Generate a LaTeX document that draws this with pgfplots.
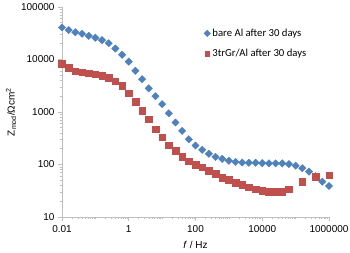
\documentclass[border=0pt]{standalone}
\usepackage{pgfplots}
\pgfplotsset{compat=1.18}
\usepackage{fontspec}
\setmainfont{Liberation Sans}
\newfontfamily\legfont{Carlito}
\definecolor{exblue}{HTML}{4F81BD}
\definecolor{exred}{HTML}{C0504D}
\definecolor{axgray}{HTML}{BFBFBF}
\begin{document}
\begin{tikzpicture}[x=1pt,y=1pt]
\useasboundingbox (-62pt,-36pt) rectangle (288pt,217pt);
\begin{axis}[
  at={(0,0)}, anchor=south west,
  scale only axis, width=267pt, height=210pt,
  xmode=log, ymode=log,
  xmin=0.01, xmax=1000000, ymin=10, ymax=100000,
  axis x line*=bottom, axis y line*=left,
  axis line style={draw=axgray, line width=0.8pt},
  every tick/.style={axgray, line width=0.6pt},
  tick align=outside,
  major tick length=4pt, minor tick length=2.5pt,
  xtick={0.01,1,100,10000,1000000},
  xticklabels={0.01,1,100,10000,1000000},
  minor xtick={0.02,0.03,0.04,0.05,0.06,0.07,0.08,0.09,0.1,0.2,0.3,0.4,0.5,0.6,0.7,0.8,0.9,2,3,4,5,6,7,8,9,10,20,30,40,50,60,70,80,90,200,300,400,500,600,700,800,900,1000,2000,3000,4000,5000,6000,7000,8000,9000,20000,30000,40000,50000,60000,70000,80000,90000,100000,200000,300000,400000,500000,600000,700000,800000,900000},
  ytick={10,100,1000,10000,100000},
  yticklabels={10,100,1000,10000,100000},
  minor ytick={20,30,40,50,60,70,80,90,200,300,400,500,600,700,800,900,2000,3000,4000,5000,6000,7000,8000,9000,20000,30000,40000,50000,60000,70000,80000,90000},
  ticklabel style={font=\fontsize{10}{12}\selectfont, text=black},
  xticklabel style={yshift=-1pt},
  /pgf/number format/assume math mode=true,
  xlabel={\textit{f} / Hz},
  ylabel={Z\textsubscript{mod}/Ωcm\textsuperscript{2}},
  label style={font=\fontsize{10}{12}\selectfont},
  xlabel style={yshift=-2pt},
  ylabel style={yshift=-2pt},
  legend style={at={(rel axis cs:0.531,0.906)}, anchor=north west, draw=none, fill=none,
    font=\legfont\fontsize{10.7}{12.8}\selectfont, row sep=7.5pt, inner sep=0pt},
  legend cell align=left,
  legend image code/.code={\draw[#1, mark size=2.3pt] plot coordinates {(0.12cm,0cm)};},
  clip=false,
]
\addplot[only marks, mark=square*, mark options={rotate=45, fill=exblue, draw=exblue}, mark size=2.6pt] coordinates {
(0.01,40700)(0.01585,36300)(0.02512,33100)(0.03981,30900)(0.0631,28200)
(0.1,26000)(0.1585,23400)(0.2512,20400)(0.3981,16200)(0.631,12300)
(1,9120)(1.585,6100)(2.512,4220)(3.981,2820)(6.31,2000)
(10,1410)(15.85,944)(25.12,631)(39.81,437)(63.1,302)
(100,230)(158.5,190)(251.2,160)(398.1,140)(631,128)
(1000,118)(1585,112)(2512,109)(3981,108)(6310,108)
(10000,106)(15849,105)(25119,105)(39811,105)(63096,102)
(100000,95)(158489,85)(251189,73)(398107,60)(630957,47)(1000000,39)
};
\addlegendentry{bare Al after 30 days}
\addplot[only marks, mark=square*, mark options={fill=exred, draw=exred}, mark size=3.3pt] coordinates {
(0.01,8300)(0.01585,6920)(0.02512,6030)(0.03981,5700)(0.0631,5460)
(0.1,5250)(0.1585,4900)(0.2512,4470)(0.3981,3890)(0.631,3160)
(1,2290)(1.585,1585)(2.512,1060)(3.981,724)(6.31,468)
(10,331)(15.85,234)(25.12,182)(39.81,141)(63.1,116)
(100,100)(158.5,89)(251.2,76)(398.1,66)(631,56)
(1000,51)(1585,45)(2512,41)(3981,37)(6310,34)
(10000,32)(15849,30)(25119,30)(39811,30)(63096,34)
(158489,47)(398107,59)(1000000,63)
};
\addlegendentry{3trGr/Al after 30 days}
\end{axis}
\end{tikzpicture}
\end{document}
